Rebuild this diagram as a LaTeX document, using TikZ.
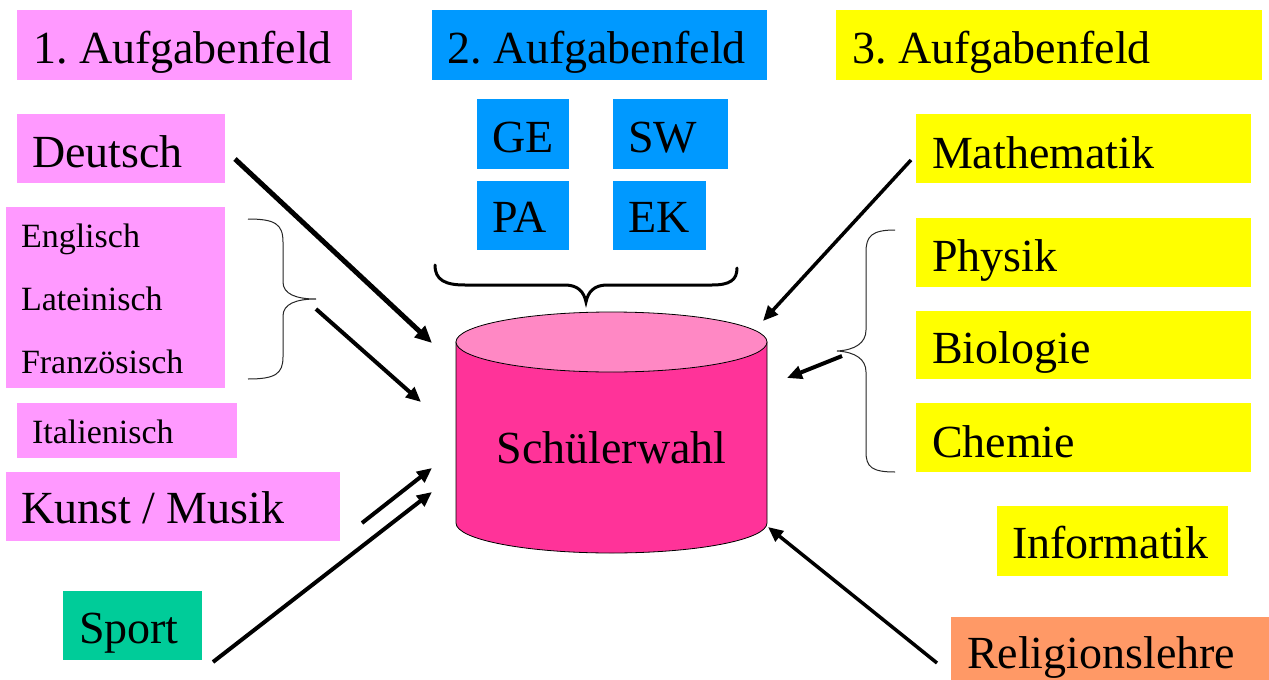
\documentclass[tikz,border=0pt]{standalone}
\usepackage{fontspec}
\setmainfont{Liberation Serif}
\usetikzlibrary{arrows.meta}
\definecolor{pinkc}{HTML}{FF99FF}
\definecolor{bluec}{HTML}{0099FF}
\definecolor{yellowc}{HTML}{FFFF00}
\definecolor{tealc}{HTML}{00CC99}
\definecolor{salmonc}{HTML}{FF9966}
\definecolor{cylside}{HTML}{FF3399}
\definecolor{cyltop}{HTML}{FF88C4}
\newcommand{\bigtxt}{\fontsize{46}{54}\selectfont\frenchspacing}
\newcommand{\smalltxt}{\fontsize{34}{63}\selectfont\frenchspacing}
\newcommand{\lb}[2]{\makebox[#1pt][l]{#2}}
\tikzset{
  subj/.style={anchor=north west, inner ysep=0pt, outer sep=0pt, font=\bigtxt},
  subjsmall/.style={subj, font=\smalltxt},
  arr/.style={line width=4pt, -{Triangle[length=15pt,width=13pt]}},
  arrthick/.style={line width=5pt, -{Triangle[length=17pt,width=15pt]}},
  thinbrace/.style={line width=1pt, black!85},
  thickbrace/.style={line width=3pt, line cap=round},
}
\begin{document}
\begin{tikzpicture}[x=1pt,y=-1pt]
\useasboundingbox (0,0) rectangle (1269,680);
\fill[white] (0,0) rectangle (1269,680);

% headers
\node[subj, fill=pinkc, inner xsep=16pt, text height=53pt, text depth=17pt] (af1) at (17,10) {\lb{303}{1. Aufgabenfeld}};
\node[subj, fill=bluec, inner xsep=15pt, text height=53pt, text depth=17pt] (af2) at (432,10) {\lb{305}{2. Aufgabenfeld}};
\node[subj, fill=yellowc, inner xsep=16pt, text height=53pt, text depth=17pt] (af3) at (836,10) {\lb{394}{3. Aufgabenfeld}};

% left column
\node[subj, fill=pinkc, inner xsep=15pt, text height=53pt, text depth=16pt] (deutsch) at (17,114) {\lb{178}{Deutsch}};
\node[subjsmall, fill=pinkc, inner xsep=15pt, text height=166pt, text depth=15pt] (lang) at (6,207)
  {\vbox{\baselineskip=63pt\hbox to 189pt{Englisch\hfil}\hbox to 189pt{Lateinisch\hfil}\hbox to 189pt{Französisch\hfil}}};
\node[subjsmall, fill=pinkc, inner xsep=15pt, text height=40pt, text depth=15pt] (ital) at (17,403) {\lb{190}{Italienisch}};
\node[subj, fill=pinkc, inner xsep=15pt, text height=51pt, text depth=18pt] (kunst) at (6,472) {\lb{304}{Kunst / Musik}};
\node[subj, fill=tealc, inner xsep=16pt, text height=52pt, text depth=17pt] (sport) at (63,591) {\lb{107}{Sport}};

% middle boxes
\node[subj, fill=bluec, inner xsep=15pt, text height=53pt, text depth=17pt] (ge) at (477,99) {\lb{62}{GE}};
\node[subj, fill=bluec, inner xsep=15pt, text height=53pt, text depth=17pt] (sw) at (613,99) {\lb{85}{SW}};
\node[subj, fill=bluec, inner xsep=15pt, text height=51pt, text depth=18pt] (pa) at (477,181) {\lb{62}{PA}};
\node[subj, fill=bluec, inner xsep=15pt, text height=51pt, text depth=18pt] (ek) at (613,181) {\lb{63}{EK}};

% right column
\node[subj, fill=yellowc, inner xsep=16pt, text height=54pt, text depth=15pt] (mathe) at (916,114) {\lb{303}{Mathematik}};
\node[subj, fill=yellowc, inner xsep=16pt, text height=53pt, text depth=16pt] (physik) at (916,218) {\lb{303}{Physik}};
\node[subj, fill=yellowc, inner xsep=16pt, text height=52pt, text depth=16pt] (bio) at (916,311) {\lb{303}{Biologie}};
\node[subj, fill=yellowc, inner xsep=16pt, text height=54pt, text depth=15pt] (chemie) at (916,403) {\lb{303}{Chemie}};
\node[subj, fill=yellowc, inner xsep=15pt, text height=52pt, text depth=18pt] (info) at (997,506) {\lb{201}{Informatik}};
\node[subj, fill=salmonc, inner xsep=16pt, text height=51pt, text depth=12pt] (reli) at (951,617) {\lb{286}{Religionslehre}};

% cylinder
\fill[cylside, draw=black, line width=0.8pt] (456,342) -- (456,523)
  arc[start angle=180, end angle=0, x radius=155.5, y radius=30] -- (767,342) -- cycle;
\draw[fill=cyltop, line width=0.8pt] (611.5,342) ellipse [x radius=155.5, y radius=30];
\node[font=\bigtxt, anchor=base, inner sep=0pt] (cyl) at (611.5,463) {Schülerwahl};

% braces
\draw[thinbrace] (248,219) .. controls (275,219) and (283,224) .. (283,242) -- (283,282)
  .. controls (283,294) and (296,299) .. (316,299)
  .. controls (296,299) and (283,304) .. (283,316) -- (283,357)
  .. controls (283,374) and (275,379) .. (248,379);
\draw[thinbrace] (895,230) .. controls (872,230) and (866,236) .. (866,252) -- (866,330)
  .. controls (866,343) and (855,350) .. (837,351)
  .. controls (855,352) and (866,359) .. (866,372) -- (866,452)
  .. controls (866,467) and (872,472) .. (895,472);
\draw[thickbrace] (435,265) .. controls (435,280) and (445,285) .. (465,285) -- (565,285)
  .. controls (578,285) and (584,292) .. (586,302)
  .. controls (588,292) and (594,285) .. (607,285) -- (712,285)
  .. controls (730,285) and (737,280) .. (737,268);

% connector end points
\coordinate (deutschout) at (235,159);
\coordinate (langout) at (316,309);
\coordinate (kunstout) at (362,523);
\coordinate (sportout) at (213,662);
\coordinate (matheout) at (911,160);
\coordinate (bioout) at (842,356);
\coordinate (reliout) at (937,663);
\coordinate (cylA) at (432,343);
\coordinate (cylB) at (421,402);
\coordinate (cylC) at (432,468);
\coordinate (cylD) at (432,492);
\coordinate (cylE) at (763,321);
\coordinate (cylF) at (787,378);
\coordinate (cylG) at (768,527);

\draw[arrthick] (deutschout) -- (cylA);
\draw[arr] (langout) -- (cylB);
\draw[arr] (kunstout) -- (cylC);
\draw[arr] (sportout) -- (cylD);
\draw[arr, line width=3.5pt] (matheout) -- (cylE);
\draw[arr] (bioout) -- (cylF);
\draw[arr, line width=3.5pt] (reliout) -- (cylG);
\end{tikzpicture}
\end{document}
